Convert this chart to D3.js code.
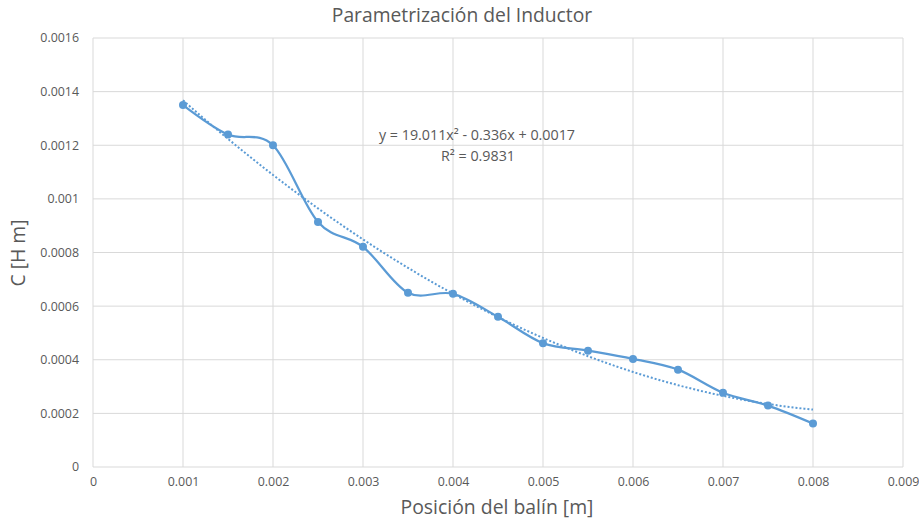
<!DOCTYPE html>
<html>
<head>
<meta charset="utf-8">
<script src="https://d3js.org/d3.v7.min.js"></script>
<style>
  body { margin: 0; background: #fff; }
  text { font-family: "Open Sans", sans-serif; fill: #595959; }
</style>
</head>
<body>
<svg id="chart" width="919" height="526"></svg>
<script>
// data
var posicion = [0.001, 0.0015, 0.002, 0.0025, 0.003, 0.0035, 0.004, 0.0045,
                0.005, 0.0055, 0.006, 0.0065, 0.007, 0.0075, 0.008];
var inductancia = [0.00135, 0.00124, 0.0012, 0.000914, 0.000821, 0.00065, 0.000646, 0.00056,
                   0.000462, 0.000434, 0.000403, 0.000363, 0.000277, 0.000229, 0.000162];
var xTicks = [0, 0.001, 0.002, 0.003, 0.004, 0.005, 0.006, 0.007, 0.008, 0.009];
var yTicks = [0, 0.0002, 0.0004, 0.0006, 0.0008, 0.001, 0.0012, 0.0014, 0.0016];
var ecuacion = ["y = 19.011x\u00B2 - 0.336x + 0.0017", "R\u00B2 = 0.9831"];

var svg = d3.select("#chart");
var pLeft = 93, pRight = 903, pTop = 38, pBottom = 467;
var color = "#5B9BD5";

var x = d3.scaleLinear().domain([0, 0.009]).range([pLeft, pRight]);
var y = d3.scaleLinear().domain([0, 0.0016]).range([pBottom, pTop]);

// gridlines
svg.append("g").selectAll("line").data(xTicks).enter().append("line")
  .attr("x1", d => x(d)).attr("x2", d => x(d))
  .attr("y1", pTop).attr("y2", pBottom)
  .attr("stroke", "#d9d9d9").attr("stroke-width", 1);
svg.append("g").selectAll("line").data(yTicks).enter().append("line")
  .attr("x1", pLeft).attr("x2", pRight)
  .attr("y1", d => y(d)).attr("y2", d => y(d))
  .attr("stroke", "#d9d9d9").attr("stroke-width", 1);

// axes (labels only, Excel-like)
var xAxis = svg.append("g").attr("transform", "translate(0," + pBottom + ")")
  .call(d3.axisBottom(x).tickValues(xTicks).tickFormat(d => +d.toFixed(3)).tickSize(0).tickPadding(10));
var yAxis = svg.append("g").attr("transform", "translate(" + pLeft + ",0)")
  .call(d3.axisLeft(y).tickValues(yTicks).tickFormat(d => +d.toFixed(4)).tickSize(0).tickPadding(14));
[xAxis, yAxis].forEach(function(a) {
  a.select(".domain").remove();
  a.selectAll("text").style("font-size", "12.4px").attr("fill", "#595959")
    .style("font-family", "'Open Sans', sans-serif");
});

// quadratic least-squares trendline
function fitQuad(xs, ys) {
  var n = xs.length, s = [0, 0, 0, 0, 0], t = [0, 0, 0];
  for (var i = 0; i < n; i++) {
    var p = 1;
    for (var k = 0; k < 5; k++) { s[k] += p; if (k < 3) t[k] += p * ys[i]; p *= xs[i]; }
  }
  var A = [[s[0], s[1], s[2], t[0]], [s[1], s[2], s[3], t[1]], [s[2], s[3], s[4], t[2]]];
  for (var c = 0; c < 3; c++) {
    for (var r = c + 1; r < 3; r++) {
      var f = A[r][c] / A[c][c];
      for (var j = c; j < 4; j++) A[r][j] -= f * A[c][j];
    }
  }
  var b = [0, 0, 0];
  for (var r2 = 2; r2 >= 0; r2--) {
    var v = A[r2][3];
    for (var j2 = r2 + 1; j2 < 3; j2++) v -= A[r2][j2] * b[j2];
    b[r2] = v / A[r2][r2];
  }
  return b;
}
var coef = fitQuad(posicion, inductancia);
var trendX = d3.range(0, 71).map(i => posicion[0] + i * (posicion[posicion.length - 1] - posicion[0]) / 70);

svg.append("path")
  .datum(trendX)
  .attr("d", d3.line().x(d => x(d)).y(d => y(coef[0] + coef[1] * d + coef[2] * d * d)))
  .attr("fill", "none").attr("stroke", color).attr("stroke-width", 2)
  .attr("stroke-dasharray", "2,2");

// smoothed series
var pts = posicion.map((d, i) => [d, inductancia[i]]);
svg.append("path")
  .datum(pts)
  .attr("d", d3.line().x(d => x(d[0])).y(d => y(d[1])).curve(d3.curveCardinal.tension(0)))
  .attr("fill", "none").attr("stroke", color).attr("stroke-width", 2.25);

svg.append("g").selectAll("circle").data(pts).enter().append("circle")
  .attr("cx", d => x(d[0])).attr("cy", d => y(d[1])).attr("r", 4)
  .attr("fill", color);

// equation label
svg.append("text").attr("x", 477).attr("y", 140).attr("text-anchor", "middle")
  .style("font-size", "14.3px").text(ecuacion[0]);
svg.append("text").attr("x", 478).attr("y", 161).attr("text-anchor", "middle")
  .style("font-size", "14.3px").text(ecuacion[1]);

// titles
svg.append("text").attr("x", 462).attr("y", 22).attr("text-anchor", "middle")
  .style("font-size", "19.3px").text("Parametrización del Inductor");
svg.append("text").attr("x", 497).attr("y", 514).attr("text-anchor", "middle")
  .style("font-size", "19.4px").text("Posición del balín [m]");
svg.append("text").attr("transform", "translate(25,253) rotate(-90)").attr("text-anchor", "middle")
  .style("font-size", "19.4px").text("C [H m]");
</script>
</body>
</html>
